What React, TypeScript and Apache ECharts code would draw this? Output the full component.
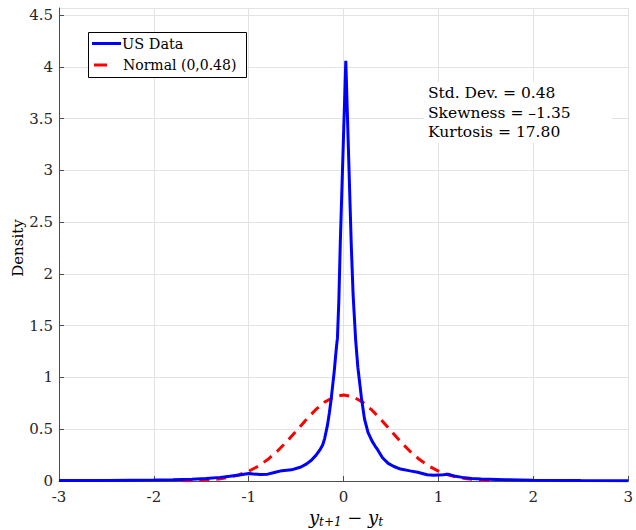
import React, { useEffect, useRef } from "react";
import * as echarts from "echarts";

// US data kernel density (x, density)
const usX = [
  -3.0, -2.5, -2.0, -1.8, -1.6, -1.45, -1.3, -1.2, -1.1, -1.0, -0.95, -0.88, -0.8, -0.72, -0.65,
  -0.55, -0.45, -0.39, -0.34, -0.29, -0.25, -0.22, -0.2, -0.17, -0.15, -0.13, -0.1, -0.075,
  -0.065, -0.05, -0.035, 0.023, 0.08, 0.1, 0.127, 0.15, 0.187, 0.22, 0.257, 0.3, 0.33, 0.36,
  0.41, 0.47, 0.53, 0.6, 0.7, 0.78, 0.88, 0.95, 1.05, 1.1, 1.18, 1.25, 1.35, 1.45, 1.7, 2.0,
  2.5, 3.0,
];
const usY = [
  0.004, 0.006, 0.009, 0.013, 0.018, 0.024, 0.035, 0.046, 0.058, 0.073, 0.068, 0.062, 0.066,
  0.085, 0.1, 0.108, 0.135, 0.165, 0.2, 0.25, 0.3, 0.35, 0.41, 0.54, 0.66, 0.8, 1.05, 1.3,
  1.38, 1.75, 2.3, 4.06, 2.3, 1.8, 1.36, 1.1, 0.81, 0.6, 0.47, 0.385, 0.34, 0.3, 0.225, 0.17,
  0.14, 0.115, 0.098, 0.085, 0.06, 0.055, 0.06, 0.065, 0.045, 0.035, 0.025, 0.019, 0.012,
  0.008, 0.005, 0.003,
];

// Normal (0, 0.48) density
const normX = [
  -1.7, -1.6, -1.5, -1.4, -1.3, -1.2, -1.1, -1.0, -0.9, -0.8, -0.7, -0.6, -0.5, -0.4, -0.3,
  -0.2, -0.1, 0.0, 0.1, 0.2, 0.3, 0.4, 0.5, 0.6, 0.7, 0.8, 0.9, 1.0, 1.1, 1.2, 1.3, 1.4, 1.5,
  1.6,
];
const normY = [
  0.0016, 0.0032, 0.0063, 0.0118, 0.0212, 0.0365, 0.0602, 0.0949, 0.143, 0.207, 0.287, 0.38,
  0.483, 0.587, 0.684, 0.762, 0.813, 0.831, 0.813, 0.762, 0.684, 0.587, 0.483, 0.38, 0.287,
  0.207, 0.143, 0.0949, 0.0602, 0.0365, 0.0212, 0.0118, 0.0063, 0.0032,
];

const seriesNames = ["US Data", "Normal (0,0.48)"];
const statLines = ["Std. Dev. = 0.48", "Skewness = \u20131.35", "Kurtosis = 17.80"];

const FONT = "DejaVu Serif";
const TXT = "#262626";
const FS = 14;

export default function App() {
  const ref = useRef<HTMLDivElement>(null);
  useEffect(() => {
    if (!ref.current) return;
    const chart = echarts.init(ref.current, undefined, { renderer: "svg" });
    const txt = (text: string, x: number, y: number, z: number, extra: any = {}) => ({
      type: "text",
      x,
      y,
      z,
      style: {
        text,
        fill: "#000000",
        fontSize: FS,
        fontFamily: FONT,
        verticalAlign: "middle",
        align: "left",
        ...extra,
      },
    });
    const option: any = {
      animation: false,
      backgroundColor: "#ffffff",
      textStyle: { fontFamily: FONT },
      grid: { left: 59, right: 3, top: 8, bottom: 49, containLabel: false },
      xAxis: {
        type: "value",
        min: -3,
        max: 3,
        interval: 1,
        axisLine: { show: true, onZero: false, lineStyle: { color: "#4d4d4d", width: 1 } },
        axisTick: { show: true, inside: true, length: 5, lineStyle: { color: "#4d4d4d" } },
        axisLabel: { margin: 8, fontSize: 15, color: TXT, fontFamily: FONT, hideOverlap: false },
        splitLine: { show: true, lineStyle: { color: "#e3e3e3", width: 1 } },
      },
      yAxis: {
        type: "value",
        min: 0,
        max: 4.57,
        interval: 0.5,
        axisLine: { show: true, onZero: false, lineStyle: { color: "#4d4d4d", width: 1 } },
        axisTick: { show: true, inside: true, length: 5, lineStyle: { color: "#4d4d4d" } },
        axisLabel: { margin: 6, fontSize: 15, color: TXT, fontFamily: FONT },
        splitLine: { show: true, lineStyle: { color: "#e3e3e3", width: 1 } },
      },
      series: [
        {
          name: seriesNames[1],
          type: "line",
          data: normX.map((x, i) => [x, normY[i]]),
          showSymbol: false,
          lineStyle: { color: "#ff0000", width: 3, type: [10, 7] },
          z: 2,
        },
        {
          name: seriesNames[0],
          type: "line",
          data: usX.map((x, i) => [x, usY[i]]),
          showSymbol: false,
          lineStyle: { color: "#0000ff", width: 3 },
          z: 3,
        },
      ],
      graphic: [
        // legend box
        {
          type: "rect",
          shape: { x: 88.5, y: 32.5, width: 158, height: 45 },
          style: { fill: "#ffffff", stroke: "#000000", lineWidth: 1 },
          z: 10,
        },
        {
          type: "line",
          shape: { x1: 92, y1: 43.5, x2: 121, y2: 43.5 },
          style: { stroke: "#0000ff", lineWidth: 3 },
          z: 11,
        },
        txt(seriesNames[0], 122, 43.5, 11, { fontSize: 14.5 }),
        {
          type: "line",
          shape: { x1: 94, y1: 65, x2: 107, y2: 65 },
          style: { stroke: "#ff0000", lineWidth: 3 },
          z: 11,
        },
        txt(seriesNames[1], 123, 64.5, 11),
        // stats box
        {
          type: "rect",
          shape: { x: 424, y: 82, width: 188, height: 61 },
          style: { fill: "#ffffff" },
          z: 5,
        },
        ...statLines.map((t, i) => txt(t, 428, 93 + i * 19.5, 6, { fontSize: 15.5 })),
        // y-axis title
        {
          type: "text",
          x: 18,
          y: 248,
          rotation: Math.PI / 2,
          style: {
            text: "Density",
            fill: "#000000",
            fontSize: 15,
            fontFamily: FONT,
            align: "center",
            verticalAlign: "middle",
          },
        },
        // x-axis title
        {
          type: "text",
          x: 346,
          y: 517,
          style: {
            text: "{i|y}{s|t+1}{n| \u2212 }{i|y}{s|t}",
            align: "center",
            verticalAlign: "middle",
            rich: {
              i: { fontSize: 18, fontStyle: "italic", fontFamily: FONT, fill: "#000" },
              s: {
                fontSize: 12,
                fontStyle: "italic",
                fontFamily: FONT,
                fill: "#000",
                padding: [10, 0, 0, 0],
              },
              n: { fontSize: 18, fontFamily: FONT, fill: "#000" },
            },
          },
        },
      ],
    };
    chart.setOption(option);
    return () => chart.dispose();
  }, []);
  return (
    <div
      ref={ref}
      style={{ position: "fixed", left: 0, top: 0, width: 636, height: 530 }}
    />
  );
}
